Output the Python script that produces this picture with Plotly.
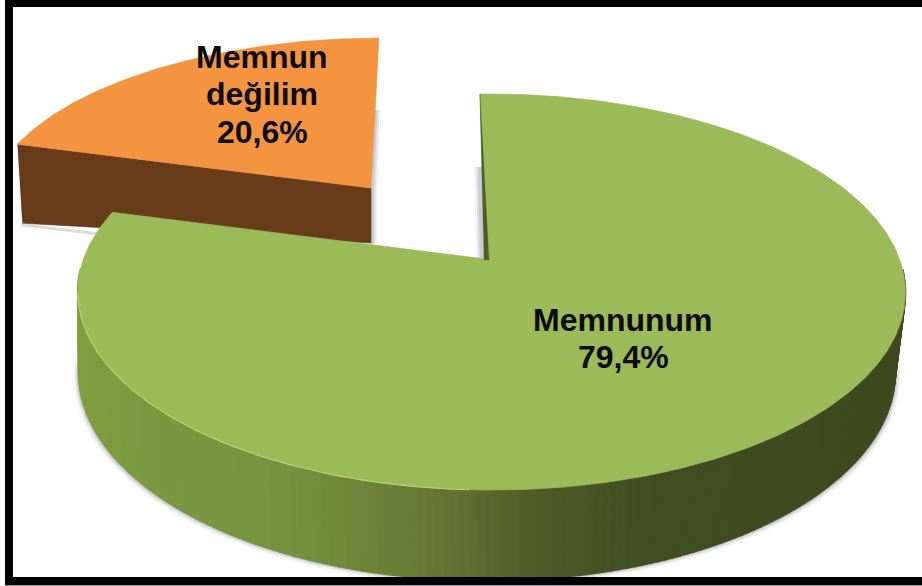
import numpy as np
import plotly.graph_objects as go

labels = ["Memnunum", "Memnun değilim"]
values = [79.4, 20.6]
value_text = ["79,4%", "20,6%"]

W, H = 922, 586
START = 91.0            # degrees, angle of the first slice's leading edge
GREEN_TOP, GREEN_SIDE_STOPS = "#9bbb59", [
    (80, "#7f9f40"), (180, "#7a983f"), (293, "#76923f"), (427, "#667a35"),
    (490, "#596a2e"), (550, "#4b5a27"), (650, "#414e22"), (895, "#3e4a20")]
ORANGE_TOP, ORANGE_SIDE = "#f49441", "#683c1b"
TEXT = "#0c0c0c"

# projective view of the pie plane
def project(deg, ax, ay, A, B, k=0.1667, m=-0.0134, skew=0.0, rot=0.0):
    a = np.radians(deg + rot)
    c, s = np.cos(a), np.sin(a)
    d = 1 + k * s + m * c
    u = B * s / d
    return ax + A * c / d + skew * u, ay - u

green_from = START
green_to = START - values[0] / sum(values) * 360
orange_from = green_to
orange_to = green_to - values[1] / sum(values) * 360

GREEN = dict(ax=486, ay=259, A=408, B=192.5)
GREEN_LOW = dict(ax=487, ay=337, A=402.6, B=203, m=0.0)
ORANGE = dict(ax=371, ay=188, A=385, B=165, k=0.10, skew=0.045, rot=-1.2)

def hex_rgb(h):
    return np.array([int(h[i:i + 2], 16) for i in (1, 3, 5)], float)

def side_colour(x):
    xs = [p[0] for p in GREEN_SIDE_STOPS]
    cs = np.array([hex_rgb(p[1]) for p in GREEN_SIDE_STOPS])
    return "rgb(%d,%d,%d)" % tuple(np.interp(x, xs, cs[:, i]) for i in range(3))

fig = go.Figure()

def poly(x, y, colour, line=None, width=0.6):
    fig.add_trace(go.Scatter(
        x=list(x), y=list(y), mode="lines", fill="toself", fillcolor=colour,
        line=dict(color=line or colour, width=width), hoverinfo="skip", showlegend=False))

# soft shadow under the green wall
t = np.linspace(186, 354, 90)
for off, alpha in [(5, 0.05), (3.5, 0.09), (2, 0.16), (1, 0.25)]:
    lx, ly = project(t, **GREEN_LOW)
    ox = (lx - GREEN_LOW["ax"]) / 408 * off
    poly(np.r_[lx + ox, lx[::-1]], np.r_[ly + off, ly[::-1]],
         f"rgba(60,60,50,{alpha})", line="rgba(0,0,0,0)")

# orange slice: gray edge shadow, wall, top
oa = np.linspace(orange_from, orange_to, 80)
ox1, oy1 = project(np.array(orange_from), **ORANGE)
ax0, ay0 = ORANGE["ax"], ORANGE["ay"]
for off, alpha in [(7, 0.06), (5, 0.12), (3, 0.18)]:
    poly([ax0, ax0 + off, ax0 + off, ax0], [ay0, ay0, ay0 + 55, ay0 + 57],
         f"rgba(90,100,120,{alpha})", line="rgba(0,0,0,0)")
    poly([ax0 + 3.5, ax0 + 3.5 + off, ax0 + off, ax0], [ay0 - 78, ay0 - 78, ay0, ay0],
         f"rgba(90,100,120,{alpha})", line="rgba(0,0,0,0)")
# faint shadow under the brown wall
poly([ox1 + 4, ox1 + 80, ox1 + 80, ox1 + 4], [oy1 + 79, oy1 + 88, oy1 + 91, oy1 + 82],
     "rgba(90,90,90,0.22)", line="rgba(0,0,0,0)")
poly([ox1, ax0, ax0, ox1 + 5], [oy1, ay0, ay0 + 55, oy1 + 79], ORANGE_SIDE)
ax_, ay_ = project(oa, **ORANGE)
poly(np.r_[ax0, ax_, ax0], np.r_[ay0, ay_, ay0], ORANGE_TOP)

# green wall as narrow bands, dark to the right
band = np.linspace(183, 357, 175)
for a0, a1 in zip(band[:-1], band[1:]):
    tx0, ty0 = project(np.array(a0), **GREEN)
    tx1, ty1 = project(np.array(a1), **GREEN)
    bx0, by0 = project(np.array(a0), **GREEN_LOW)
    bx1, by1 = project(np.array(a1), **GREEN_LOW)
    poly([tx0, tx1, bx1, bx0, tx0], [ty0, ty1, by1, by0, ty0], side_colour((bx0 + bx1) / 2), width=1.6)

# green top
ga = np.linspace(green_from, green_to, 360)
gx, gy = project(ga, **GREEN)
poly(np.r_[GREEN["ax"], gx, GREEN["ax"]], np.r_[GREEN["ay"], gy, GREEN["ay"]], GREEN_TOP)

# thin bevel highlight along the near-left rim
rim = np.linspace(190, 268, 80)
rx, ry = project(rim, **GREEN)
fig.add_trace(go.Scatter(x=rx, y=ry, mode="lines", line=dict(color="#b4d36a", width=1.2),
                         hoverinfo="skip", showlegend=False))

# edge of the first slice: dark sliver and gray shadow at the notch
sx, sy = project(np.array(green_from), **GREEN)
for off, alpha in [(8, 0.07), (6, 0.12), (4, 0.18)]:
    poly([sx + 2 - off, sx + 2, sx + 4, sx + 4 - off], [sy + 73, sy + 73, sy + 164, sy + 164],
         f"rgba(90,100,120,{alpha})", line="rgba(0,0,0,0)")
poly([sx, GREEN["ax"] + 3, GREEN["ax"] - 2, sx], [sy, GREEN["ay"] + 1, GREEN["ay"] + 1, sy],
     "#4c5e25", width=0.3)

# frame
frame = [(5, 0, 13, 585), (5, 0, W, 7), (5, 577, W, 585)]
shapes = [dict(type="rect", x0=a, y0=b, x1=c, y1=d, fillcolor="#000000",
               line=dict(width=0), layer="above") for a, b, c, d in frame]
shapes.append(dict(type="rect", x0=5, y0=585, x1=W, y1=586, fillcolor="#9a9a9a",
                   line=dict(width=0), layer="above"))

font = dict(family="Liberation Sans", size=32, color=TEXT)
def note(x, y, text):
    return dict(x=x, y=y, text=f"<b>{text}</b>", showarrow=False, font=font,
                xanchor="center", yanchor="middle", xref="x", yref="y")
words = labels[1].split(" ")
annotations = [
    note(262, 57, words[0]), note(262, 94, words[1]), note(262, 132, value_text[1]),
    note(623, 320, labels[0]), note(623, 357, value_text[0]),
]

fig.update_layout(
    width=W, height=H, margin=dict(l=0, r=0, t=0, b=0),
    paper_bgcolor="white", plot_bgcolor="white", showlegend=False,
    xaxis=dict(range=[0, W], visible=False, fixedrange=True),
    yaxis=dict(range=[H, 0], visible=False, fixedrange=True),
    shapes=shapes, annotations=annotations,
)
fig.write_html("out.html", config=dict(displayModeBar=False),
               post_script="document.body.style.margin='0';document.body.style.overflow='hidden';")
